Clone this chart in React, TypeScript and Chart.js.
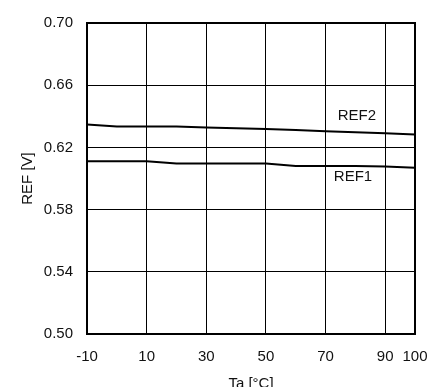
import React, { useEffect, useRef } from "react";
import { Chart, registerables } from "chart.js";

Chart.register(...registerables);

const temps = [-10, 0, 10, 20, 30, 40, 50, 60, 70, 80, 90, 100];
const ref2 = [0.6348, 0.6335, 0.6335, 0.6335, 0.6328, 0.6323, 0.6319, 0.6312, 0.6304, 0.6297, 0.6291, 0.6283];
const ref1 = [0.6111, 0.6111, 0.6111, 0.6096, 0.6096, 0.6096, 0.6096, 0.6081, 0.6081, 0.6081, 0.6077, 0.6069];
const xTicks = [-10, 10, 30, 50, 70, 90, 100];
const yTicks = [0.5, 0.54, 0.58, 0.62, 0.66, 0.7];
const seriesLabels = [
  { text: "REF2", x: 80.5, y: 0.6403 },
  { text: "REF1", x: 79.2, y: 0.601 },
];

const FONT = "'Liberation Sans', Arial, sans-serif";

export default function App() {
  const ref = useRef<HTMLCanvasElement | null>(null);
  useEffect(() => {
    if (!ref.current) return;
    const overlay = {
      id: "overlay",
      afterDraw(chart: any) {
        const { ctx, chartArea: a, scales } = chart;
        ctx.save();
        ctx.strokeStyle = "#000";
        ctx.lineWidth = 2;
        ctx.strokeRect(a.left, a.top, a.right - a.left, a.bottom - a.top);
        ctx.fillStyle = "#111";
        ctx.font = `15px ${FONT}`;
        ctx.textAlign = "center";
        ctx.textBaseline = "middle";
        for (const l of seriesLabels) {
          ctx.fillText(l.text, scales.x.getPixelForValue(l.x), scales.y.getPixelForValue(l.y));
        }
        ctx.textBaseline = "top";
        ctx.fillText("Ta [°C]", (a.left + a.right) / 2, 376);
        ctx.translate(28, (a.top + a.bottom) / 2);
        ctx.rotate(-Math.PI / 2);
        ctx.textBaseline = "middle";
        ctx.fillText("REF [V]", 0, 0);
        ctx.restore();
      },
    };
    const chart = new Chart(ref.current, {
      type: "line",
      data: {
        datasets: [
          { label: "REF2", data: temps.map((t, i) => ({ x: t, y: ref2[i] })), borderColor: "#000", borderWidth: 2, pointRadius: 0, tension: 0 },
          { label: "REF1", data: temps.map((t, i) => ({ x: t, y: ref1[i] })), borderColor: "#000", borderWidth: 2, pointRadius: 0, tension: 0 },
        ],
      },
      options: {
        animation: false,
        responsive: false,
        layout: { padding: { top: 19, right: 32, left: 0, bottom: 0 } },
        plugins: { legend: { display: false }, tooltip: { enabled: false } },
        scales: {
          x: {
            type: "linear",
            min: -10,
            max: 100,
            afterBuildTicks: (s: any) => { s.ticks = xTicks.map((v) => ({ value: v })); },
            afterFit: (s: any) => { s.height = 53; },
            grid: { color: "#000", lineWidth: 1, drawTicks: false },
            border: { display: false },
            ticks: { color: "#111", font: { family: FONT, size: 15 }, padding: 14, maxRotation: 0, autoSkip: false, callback: (v: any) => String(v) },
          },
          y: {
            type: "linear",
            min: 0.5,
            max: 0.7,
            afterBuildTicks: (s: any) => { s.ticks = yTicks.map((v) => ({ value: v })); },
            afterFit: (s: any) => { s.width = 87; },
            grid: { color: "#000", lineWidth: 1, drawTicks: false },
            border: { display: false },
            ticks: { color: "#111", font: { family: FONT, size: 15 }, padding: 14, callback: (v: any) => Number(v).toFixed(2) },
          },
        },
      },
      plugins: [overlay],
    });
    return () => chart.destroy();
  }, []);
  return (
    <div style={{ position: "fixed", left: 0, top: 0, width: 447, height: 387, background: "#fff" }}>
      <canvas ref={ref} width={447} height={387} style={{ display: "block" }} />
    </div>
  );
}
